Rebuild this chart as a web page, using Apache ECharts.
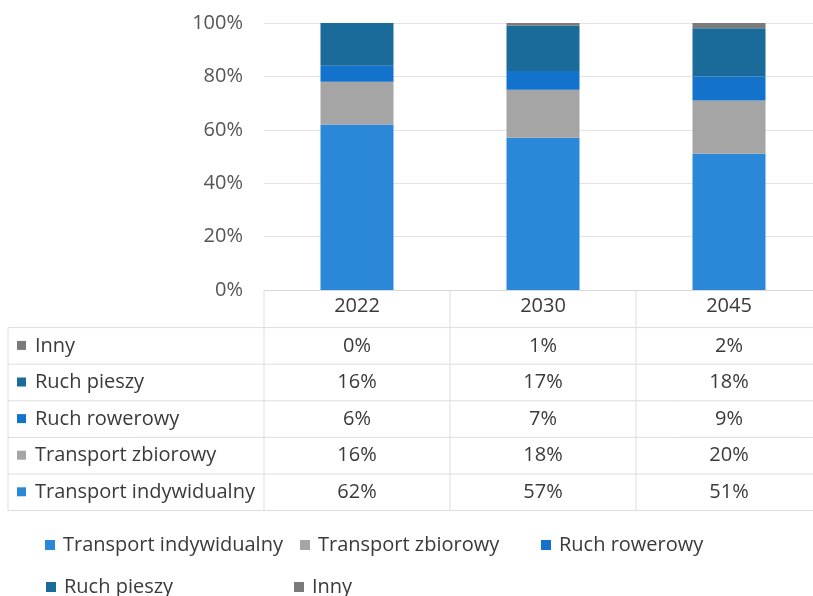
<!DOCTYPE html>
<html><head><meta charset="utf-8">
<script src="https://cdn.jsdelivr.net/npm/echarts@6/dist/echarts.min.js"></script>
<style>html,body{margin:0;padding:0;background:#fff;overflow:hidden}#c{width:830px;height:596px}</style>
</head><body><div id="c"></div>
<script>
const categories = ['2022', '2030', '2045'];
const seriesNames = ['Transport indywidualny', 'Transport zbiorowy', 'Ruch rowerowy', 'Ruch pieszy', 'Inny'];
const transportIndywidualny = [62, 57, 51];
const transportZbiorowy = [16, 18, 20];
const ruchRowerowy = [6, 7, 9];
const ruchPieszy = [16, 17, 18];
const inny = [0, 1, 2];
const yTicks = [0, 20, 40, 60, 80, 100];
const colors = ['#2B88D8', '#A5A5A5', '#1372CC', '#1A6A9A', '#7A7A7A'];
const values = [transportIndywidualny, transportZbiorowy, ruchRowerowy, ruchPieszy, inny];

const FONT = 'Open Sans';
const FS = 20;
const TXT = '#3A3A3A';
const chart = echarts.init(document.getElementById('c'));

const gridLeft = 264, gridTop = 23, gridW = 558, gridH = 267;
const rowH = 36.6;
const tableTop = 291 + rowH;
const tableLeft = 8;

const series = seriesNames.map((n, i) => ({
  name: n, type: 'bar', stack: 'all', barWidth: 73,
  itemStyle: {color: colors[i]}, data: values[i], z: 3
}));

const legendPos = [[45, 535], [300, 535], [541, 535], [46, 577], [294, 577]];
const legends = seriesNames.map((n, i) => ({
  data: [n], left: legendPos[i][0], top: legendPos[i][1], icon: 'rect',
  itemWidth: 10, itemHeight: 10, itemGap: 0, padding: 0,
  textStyle: {fontFamily: FONT, fontSize: FS, color: TXT, padding: [0, 0, 0, 3]},
  selectedMode: false
}));

chart.setOption({
  animation: false,
  grid: {left: gridLeft, top: gridTop, width: gridW, height: gridH},
  legend: legends,
  xAxis: {
    type: 'category', data: categories,
    axisLine: {show: true, lineStyle: {color: '#D9D9D9'}},
    axisTick: {show: false},
    axisLabel: {fontFamily: FONT, fontSize: FS, color: TXT, margin: 6}
  },
  yAxis: {
    type: 'value', min: yTicks[0], max: yTicks[yTicks.length - 1], interval: 20,
    axisLabel: {formatter: v => v + '%', fontFamily: FONT, fontSize: FS, color: '#555555', margin: 21},
    splitLine: {lineStyle: {color: '#E3E3E3'}},
    axisLine: {show: false}, axisTick: {show: false}
  },
  series: series
});

const g = [];
const lineColor = '#DDDDDD';
const nRows = seriesNames.length;
const bottom = tableTop + rowH * nRows;
const colEdges = [gridLeft];
for (let i = 1; i < categories.length; i++) {
  const a = chart.convertToPixel({xAxisIndex: 0}, categories[i - 1]);
  const b = chart.convertToPixel({xAxisIndex: 0}, categories[i]);
  colEdges.push((a + b) / 2);
}
colEdges.forEach(x => g.push({type: 'line', shape: {x1: x, y1: 291, x2: x, y2: bottom}, style: {stroke: lineColor, lineWidth: 1}}));
g.push({type: 'line', shape: {x1: tableLeft, y1: tableTop, x2: tableLeft, y2: bottom}, style: {stroke: lineColor, lineWidth: 1}});
for (let r = 0; r <= nRows; r++) {
  const y = tableTop + rowH * r;
  g.push({type: 'line', shape: {x1: tableLeft, y1: y, x2: 830, y2: y}, style: {stroke: lineColor, lineWidth: 1}});
}
for (let r = 0; r < nRows; r++) {
  const si = nRows - 1 - r;
  const cy = tableTop + rowH * r + rowH / 2;
  g.push({type: 'rect', shape: {x: 17, y: cy - 5, width: 9, height: 9}, style: {fill: colors[si]}});
  g.push({type: 'text', x: 35, y: cy, style: {text: seriesNames[si], fontFamily: FONT, fontSize: FS, fill: TXT, verticalAlign: 'middle', align: 'left'}});
  categories.forEach((c, ci) => {
    const x = chart.convertToPixel({xAxisIndex: 0}, c);
    g.push({type: 'text', x: x, y: cy, style: {text: values[si][ci] + '%', fontFamily: FONT, fontSize: FS, fill: TXT, verticalAlign: 'middle', align: 'center'}});
  });
}
chart.setOption({graphic: g});
</script></body></html>
